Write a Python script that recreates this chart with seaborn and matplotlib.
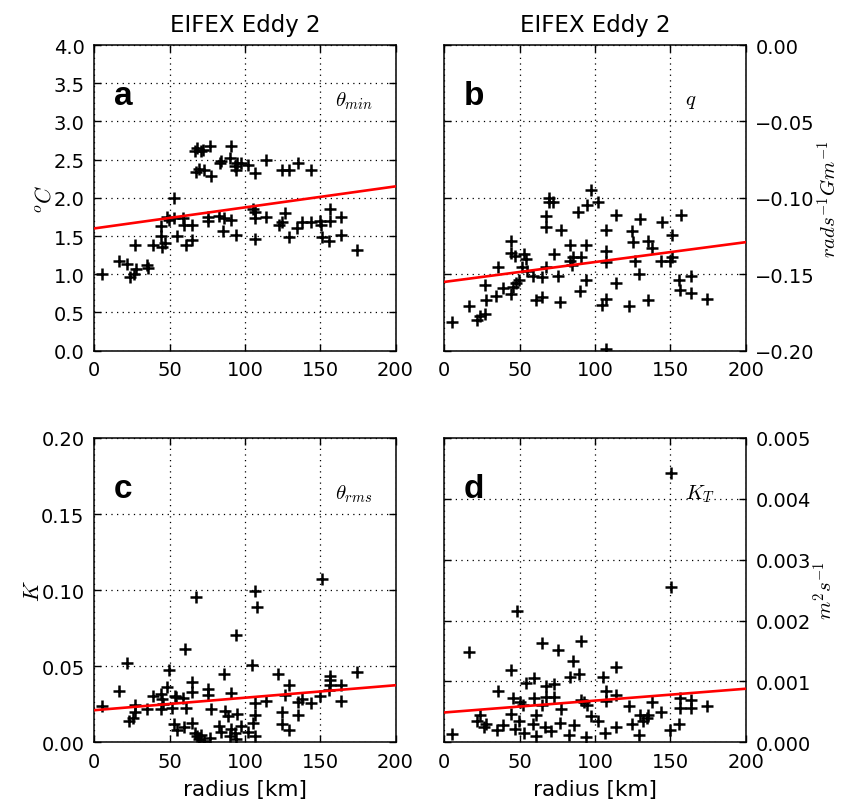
import matplotlib
matplotlib.use("Agg")
import matplotlib.pyplot as plt
import seaborn as sns
import pandas as pd

# ---------------- data ----------------
# panel a: theta_min [oC] vs radius [km]
a_x = [5.3, 16.4, 21.9, 23.5, 26.1, 27.9, 27.0, 35.0, 35.6, 38.9, 44.5, 44.5, 45.1, 46.7,
       48.2, 49.6, 52.9, 53.1, 55.1, 58.9, 59.5, 61.1, 64.8, 65.0, 66.8, 68.1, 71.0, 72.0,
       67.7, 69.5, 72.6, 76.5, 77.7, 75.4, 75.4, 82.7, 83.2, 84.2, 85.4, 86.1, 90.9, 89.8,
       91.0, 93.1, 93.8, 94.7, 94.2, 97.6, 102.0, 105.3, 106.4, 107.0, 107.0, 107.0, 114.2,
       114.2, 122.6, 124.8, 126.3, 124.8, 129.6, 129.2, 134.5, 135.2, 138.1, 144.0, 144.0,
       149.6, 150.7, 151.3, 156.6, 156.6, 155.8, 164.0, 164.0, 174.3]
a_y = [1.01, 1.18, 1.14, 0.97, 1.01, 1.07, 1.38, 1.12, 1.08, 1.38, 1.63, 1.50, 1.36, 1.41,
       1.75, 1.71, 2.00, 1.73, 1.50, 1.73, 1.65, 1.38, 1.65, 1.45, 2.61, 2.65, 2.61, 2.62,
       2.34, 2.38, 2.37, 2.68, 2.28, 1.75, 1.70, 1.76, 2.46, 2.48, 1.57, 1.74, 2.68, 2.52,
       1.71, 2.42, 2.36, 2.46, 1.51, 2.46, 2.43, 1.85, 1.82, 1.73, 2.33, 1.46, 2.49, 1.75,
       1.64, 1.68, 1.80, 2.36, 2.36, 1.49, 1.61, 2.46, 1.68, 1.68, 2.37, 1.70, 1.65, 1.49,
       1.85, 1.70, 1.43, 1.75, 1.51, 1.32]

# panel b: q [rad s^-1 Gm^-1] vs radius [km]
b_x = [5.3, 16.4, 21.7, 23.5, 26.8, 27.4, 27.0, 35.6, 34.5, 38.9, 44.0, 44.5, 44.5, 45.6,
       46.7, 47.8, 49.6, 51.8, 52.9, 54.4, 54.9, 58.9, 60.6, 64.6, 64.6, 67.7, 67.7, 67.7,
       69.5, 69.5, 72.1, 72.8, 75.4, 77.7, 77.0, 83.2, 83.2, 85.0, 85.4, 88.7, 91.0, 90.3,
       93.8, 94.2, 94.7, 97.6, 102.0, 104.9, 107.0, 107.5, 107.5, 107.5, 107.5, 114.2, 114.2,
       122.3, 124.8, 125.2, 126.3, 129.2, 129.6, 135.0, 135.2, 138.1, 144.0, 144.5, 149.6,
       151.3, 151.3, 155.8, 156.6, 157.3, 164.0, 164.0, 174.3]
b_y = [-0.181, -0.171, -0.180, -0.177, -0.176, -0.167, -0.157, -0.145, -0.164, -0.159,
       -0.163, -0.128, -0.136, -0.158, -0.138, -0.156, -0.154, -0.145, -0.137, -0.140,
       -0.148, -0.151, -0.167, -0.165, -0.152, -0.112, -0.119, -0.145, -0.100, -0.103,
       -0.103, -0.137, -0.151, -0.121, -0.168, -0.131, -0.141, -0.144, -0.139, -0.109,
       -0.139, -0.161, -0.131, -0.154, -0.105, -0.095, -0.103, -0.170, -0.166, -0.121,
       -0.135, -0.142, -0.199, -0.111, -0.156, -0.171, -0.122, -0.129, -0.141, -0.150,
       -0.114, -0.167, -0.128, -0.133, -0.141, -0.116, -0.141, -0.124, -0.139, -0.154,
       -0.160, -0.111, -0.151, -0.162, -0.166]

# panel c: theta_rms [K] vs radius [km]
c_x = [5.3, 16.4, 21.9, 26.8, 23.3, 25.9, 27.0, 35.2, 38.9, 44.5, 45.1, 45.6, 44.5, 48.2,
       49.6, 51.8, 53.3, 54.4, 58.8, 60.0, 61.1, 64.6, 65.0, 67.7, 75.4, 75.4, 77.7, 85.8,
       86.5, 88.7, 91.0, 94.2, 94.7, 104.9, 107.0, 108.0, 107.0, 107.0, 114.2, 122.3, 124.8,
       126.3, 129.2, 135.0, 135.2, 138.1, 144.0, 149.6, 151.3, 156.2, 156.6, 156.6, 155.8,
       164.0, 164.0, 174.3,
       52.9, 55.1, 59.5, 64.8, 66.8, 68.1, 69.5, 71.0, 72.6, 76.5, 82.7, 84.0, 89.8, 90.9,
       93.1, 93.8, 97.6, 102.0, 105.3, 106.4, 124.8, 129.6]
c_y = [0.0239, 0.0336, 0.0518, 0.0243, 0.0142, 0.0158, 0.0197, 0.0217, 0.0305, 0.0320,
       0.0287, 0.0254, 0.0217, 0.0364, 0.0474, 0.0226, 0.0305, 0.0298, 0.0292, 0.0612,
       0.0226, 0.0397, 0.0331, 0.0956, 0.0353, 0.0309, 0.0217, 0.0447, 0.0204, 0.0173,
       0.0327, 0.0704, 0.0189, 0.0511, 0.0993, 0.0890, 0.0261, 0.0182, 0.0270, 0.0447,
       0.0200, 0.0309, 0.0379, 0.0265, 0.0182, 0.0287, 0.0261, 0.0305, 0.1072, 0.0375,
       0.0436, 0.0408, 0.0342, 0.0379, 0.0270, 0.0463,
       0.012, 0.008, 0.010, 0.013, 0.006, 0.004, 0.002, 0.005, 0.001, 0.003, 0.011, 0.007,
       0.004, 0.009, 0.006, 0.002, 0.011, 0.007, 0.013, 0.004, 0.012, 0.008]

# panel d: K_T [m^2 s^-1] vs radius [km]
d_x = [16.4, 23.5, 35.6, 44.5, 45.6, 44.5, 48.2, 50.0, 52.2, 54.4, 59.3, 59.3, 60.6, 64.6,
       64.6, 67.7, 67.7, 72.8, 72.8, 75.4, 77.7, 83.2, 85.4, 89.4, 91.0, 91.0, 92.5, 94.7,
       97.6, 105.3, 107.0, 107.5, 114.2, 114.2, 122.3, 129.6, 135.2, 138.1, 144.0, 150.7,
       150.7, 156.6, 156.2, 164.0, 164.0, 174.3,
       5.3, 21.9, 26.1, 27.9, 35.0, 38.9, 46.7, 49.6, 53.1, 58.9, 61.1, 66.8, 71.0, 76.5,
       82.7, 86.1, 93.8, 102.0, 106.4, 114.2, 124.8, 129.2, 132.0, 134.5, 149.6, 155.8]
d_y = [0.00148, 0.00045, 0.00084, 0.00119, 0.00073, 0.00046, 0.00215, 0.00067, 0.00061,
       0.00098, 0.00105, 0.00072, 0.00045, 0.00163, 0.00061, 0.00092, 0.00075, 0.00096,
       0.00074, 0.00152, 0.00055, 0.00108, 0.00134, 0.00112, 0.00167, 0.00070, 0.00067,
       0.00061, 0.00043, 0.00108, 0.00084, 0.00068, 0.00123, 0.00077, 0.00060, 0.00045,
       0.00045, 0.00066, 0.00049, 0.00443, 0.00255, 0.00072, 0.00056, 0.00070, 0.00056,
       0.00060,
       0.00013, 0.00035, 0.00025, 0.00030, 0.00020, 0.00028, 0.00022, 0.00035, 0.00015,
       0.00030, 0.00010, 0.00025, 0.00018, 0.00032, 0.00012, 0.00028, 0.00008, 0.00035,
       0.00015, 0.00025, 0.00030, 0.00012, 0.00035, 0.00040, 0.00020, 0.00030]

# red fit lines (end points at radius 0 and 200 km)
fit_x = [0, 200]
fit_a = [1.60, 2.15]
fit_b = [-0.155, -0.129]
fit_c = [0.0211, 0.0375]
fit_d = [0.00049, 0.00088]

titles = ["EIFEX Eddy 2", "EIFEX Eddy 2"]
letters = ["a", "b", "c", "d"]
tags = [r"$\theta_{min}$", r"$q$", r"$\theta_{rms}$", r"$K_T$"]
ylabels = [r"$^oC$", r"$rads^{-1}Gm^{-1}$", r"$K$", r"$m^2s^{-1}$"]
xlabel = "radius [km]"
x_ticks = [0, 50, 100, 150, 200]
a_ticks = [0.0, 0.5, 1.0, 1.5, 2.0, 2.5, 3.0, 3.5, 4.0]
b_ticks = [-0.20, -0.15, -0.10, -0.05, 0.00]
c_ticks = [0.00, 0.05, 0.10, 0.15, 0.20]
d_ticks = [0.000, 0.001, 0.002, 0.003, 0.004, 0.005]

# ---------------- styling ----------------
sns.set_style("white")
plt.rcParams["font.family"] = ["DejaVu Sans"]
plt.rcParams["mathtext.fontset"] = "cm"
for k in ["text.color", "axes.labelcolor", "xtick.color", "ytick.color"]:
    plt.rcParams[k] = "black"

W, H = 843, 803
fig = plt.figure(figsize=(W / 100, H / 100), dpi=100)

def px_axes(x0, y0, x1, y1):
    return fig.add_axes([x0 / W, 1 - y1 / H, (x1 - x0) / W, (y1 - y0) / H])

ax_a = px_axes(94.3, 46.0, 395.5, 351.7)
ax_b = px_axes(444.3, 46.0, 745.7, 351.7)
ax_c = px_axes(94.3, 439.0, 395.5, 743.3)
ax_d = px_axes(444.3, 439.0, 745.7, 743.3)

panels = [
    (ax_a, a_x, a_y, fit_a, (0, 4.0), a_ticks, "%.1f", False),
    (ax_b, b_x, b_y, fit_b, (-0.20, 0.0), b_ticks, "%.2f", True),
    (ax_c, c_x, c_y, fit_c, (0, 0.20), c_ticks, "%.2f", False),
    (ax_d, d_x, d_y, fit_d, (0, 0.005), d_ticks, "%.3f", True),
]

for i, (ax, xs, ys, fit, ylim, yt, fmt, right) in enumerate(panels):
    df = pd.DataFrame({"r": xs, "v": ys})
    fdf = pd.DataFrame({"r": fit_x, "v": fit})
    sns.scatterplot(data=df, x="r", y="v", ax=ax, marker="+", s=75, color="black",
                    linewidth=1.8, zorder=3)
    sns.lineplot(data=fdf, x="r", y="v", ax=ax, color="red", linewidth=1.9, zorder=4)
    ax.set_xlim(0, 200)
    ax.set_ylim(*ylim)
    ax.set_xticks(x_ticks)
    ax.set_yticks(yt)
    ax.set_yticklabels([(fmt % t).replace("-", "\u2212") for t in yt])
    ax.grid(True, color="black", linestyle=(0, (1, 3.5)), linewidth=0.9)
    for s in ax.spines.values():
        s.set_color("black")
        s.set_linewidth(1.1)
    ax.tick_params(direction="in", length=5, width=1, top=True, bottom=True,
                   left=True, right=True, labelsize=14, pad=7, colors="black")
    ax.tick_params(axis="y", labelleft=not right, labelright=right)
    ax.set_xlabel(xlabel if i >= 2 else "", fontsize=15.5, labelpad=6)
    if right:
        ax.yaxis.set_label_position("right")
        ax.set_ylabel(ylabels[i], fontsize=15, rotation=90, labelpad=1)
    else:
        ax.set_ylabel(ylabels[i], fontsize=16, labelpad=-1)
    if i < 2:
        ax.set_title(titles[i], fontsize=16.5, pad=10)
    ax.text(0.065, 0.835, letters[i], transform=ax.transAxes, fontsize=24,
            fontweight="bold", family="Liberation Sans", va="center", ha="left",
            color="black")
    ax.text(0.80, 0.82, tags[i], transform=ax.transAxes, fontsize=15,
            va="center", ha="left", color="black")
    if ax.get_legend():
        ax.get_legend().remove()

fig.savefig("out.png", dpi=100)
